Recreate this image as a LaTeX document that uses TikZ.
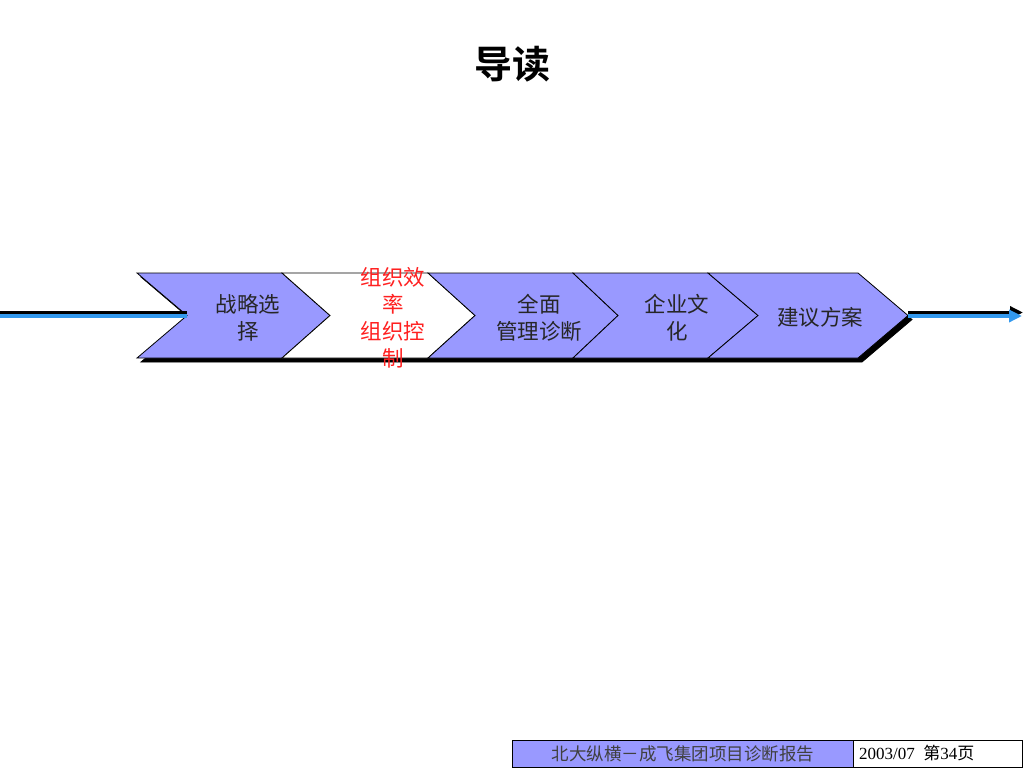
\documentclass[tikz,border=0pt]{standalone}
\usepackage{fontspec}
\setmainfont{Liberation Serif}
\newfontfamily\cjk{Noto Sans CJK SC}
\newfontfamily\cjkbold{Noto Sans CJK SC Bold}
\usetikzlibrary{arrows.meta}
\definecolor{lav}{HTML}{9999FF}
\definecolor{lineblue}{HTML}{3399EE}
\definecolor{txtred}{HTML}{FF2020}
\tikzset{
  chev/.style={draw=black, line width=0.8pt, fill=lav, line join=miter},
  chevwhite/.style={chev, fill=white},
  shadowshape/.style={fill=black, draw=black, line width=0.8pt},
  lbl/.style={font=\cjk\fontsize{21.5}{27}\selectfont, align=center, text=black!85},
  redlbl/.style={lbl, text=txtred},
  footbox/.style={draw=black, line width=0.8pt, minimum height=27pt, inner sep=0pt},
  blueline/.style={draw=lineblue, line width=4pt},
  shadowline/.style={draw=black, line width=3.5pt}
}
\begin{document}
\begin{tikzpicture}[x=1pt,y=-1pt]
\useasboundingbox (0,0) rectangle (1024,768);
% title
\node[font=\cjkbold\fontsize{38}{42}\selectfont] (title) at (512,64) {导读};
% shadow of process band
\fill[shadowshape] (141,277) -- (862,277) -- (912,319.5) -- (862,362) -- (141,362) -- (191,319.5) -- cycle;
% chevrons
\draw[chev] (137,273) -- (282,273) -- (330,315.5) -- (282,358) -- (137,358) -- (187,315.5) -- cycle;
\draw[chevwhite] (282,273) -- (428,273) -- (475,315.5) -- (428,358) -- (282,358) -- (330,315.5) -- cycle;
\draw[chev] (428,273) -- (573,273) -- (618,315.5) -- (573,358) -- (428,358) -- (475,315.5) -- cycle;
\draw[chev] (573,273) -- (708,273) -- (758,315.5) -- (708,358) -- (573,358) -- (618,315.5) -- cycle;
\draw[chev] (708,273) -- (858,273) -- (908,315.5) -- (858,358) -- (708,358) -- (758,315.5) -- cycle;
% connectors
\coordinate (lstart) at (0,316);
\coordinate (notch) at (187,316);
\coordinate (tip) at (908,316);
\coordinate (rend) at (1022,316);
\draw[shadowline] ([yshift=3.5pt]lstart) -- ([yshift=3.5pt]notch);
\draw[blueline] (lstart) -- (notch);
\draw[shadowline, -{Triangle[length=13pt,width=12pt]}] ([yshift=3.5pt]tip) -- ([yshift=3.5pt,xshift=1pt]rend);
\draw[blueline, -{Triangle[length=13pt,width=12pt]}] (tip) -- (rend);
% labels
\node[lbl] (s1) at (248,317.5) {战略选\\择};
\node[redlbl] (s2) at (393,317.5) {组织效\\率\\组织控\\制};
\node[lbl] (s3) at (539,317.5) {全面\\管理诊断};
\node[lbl] (s4) at (677,317.5) {企业文\\化};
\node[lbl] (s5) at (820,317.5) {建议方案};
% footer
\node[footbox, fill=lav, minimum width=341pt, anchor=north west, font=\cjk\fontsize{17.5}{19}\selectfont, text=black!75] (f1) at (512,740) {北大纵横－成飞集团项目诊断报告};
\node[footbox, fill=white, minimum width=169pt, anchor=north west] (f2) at (853,740) {};
\node[anchor=west, inner sep=0pt, font=\fontsize{17}{19}\selectfont] (f2t) at (859,753.5) {2003/07\ \ {\cjk 第}34{\cjk 页}};
\end{tikzpicture}
\end{document}
